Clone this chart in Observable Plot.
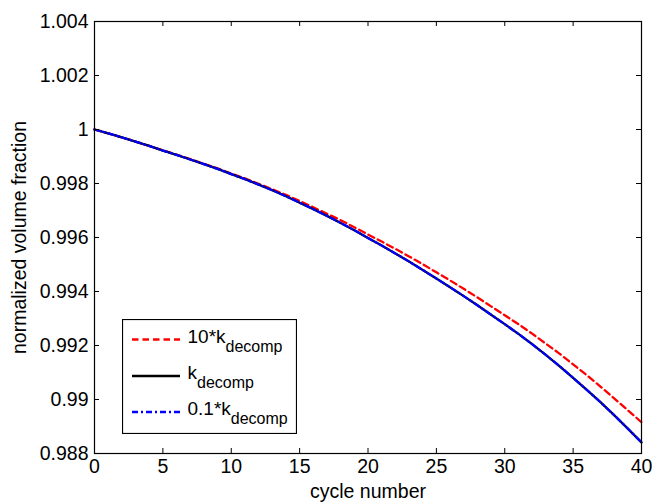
<!DOCTYPE html>
<html>
<head>
<meta charset="utf-8">
<script src="https://cdn.jsdelivr.net/npm/d3@7"></script>
<script src="https://cdn.jsdelivr.net/npm/@observablehq/plot@0.6"></script>
<style>
  html, body { margin: 0; padding: 0; background: #fff; }
  #wrap { position: relative; width: 654px; height: 504px; font-family: "Liberation Sans", Arial, sans-serif; }
  #legend { position: absolute; left: 122px; top: 319px; }
</style>
</head>
<body>
<div id="wrap"></div>
<script>
// ---- data ----
const cycles = [0,1,2,3,4,5,6,7,8,9,10,11,12,13,14,15,16,17,18,19,20,21,22,23,24,25,26,27,28,29,30,31,32,33,34,35,36,37,38,39,40];
const k10x = [1.00000,0.99986,0.99971,0.99955,0.99939,0.99923,0.99907,0.99890,0.99873,0.99856,
  0.99837,0.99819,0.99799,0.99779,0.99758,0.99735,0.99712,0.99688,0.99664,0.99638,
  0.99611,0.99585,0.99558,0.99530,0.99501,0.99471,0.99441,0.99410,0.99378,0.99345,
  0.99312,0.99279,0.99244,0.99207,0.99170,0.99130,0.99090,0.99048,0.99004,0.98960,0.98916];
const k1x = [1.00000,0.99986,0.99971,0.99955,0.99939,0.99922,0.99906,0.99889,0.99872,0.99854,
  0.99835,0.99816,0.99796,0.99775,0.99753,0.99729,0.99705,0.99680,0.99654,0.99627,
  0.99598,0.99570,0.99541,0.99511,0.99480,0.99448,0.99416,0.99383,0.99349,0.99314,
  0.99279,0.99243,0.99205,0.99165,0.99124,0.99080,0.99036,0.98990,0.98942,0.98892,0.98841];
const k01x = [1.00000,0.99986,0.99971,0.99955,0.99939,0.99922,0.99906,0.99889,0.99872,0.99854,
  0.99835,0.99816,0.99796,0.99775,0.99753,0.99729,0.99705,0.99680,0.99654,0.99627,
  0.99598,0.99570,0.99541,0.99511,0.99480,0.99448,0.99416,0.99383,0.99349,0.99314,
  0.99279,0.99243,0.99205,0.99165,0.99124,0.99080,0.99036,0.98990,0.98942,0.98892,0.98841];
const xTicks = [0,5,10,15,20,25,30,35,40];
const yTicks = [0.988,0.990,0.992,0.994,0.996,0.998,1.000,1.002,1.004];
const yTickLabels = ["0.988","0.99","0.992","0.994","0.996","0.998","1","1.002","1.004"];
const seriesNames = ["10*k", "k", "0.1*k"];
const seriesSub = "decomp";
const xLabel = "cycle number";
const yLabel = "normalized volume fraction";

const rows = (ys) => cycles.map((c, i) => ({c, v: ys[i]}));

const W = 654, H = 504;
const mL = 94, mR = 13, mT = 21, mB = 51;
const innerW = W - mL - mR, innerH = H - mT - mB;
const tick = 5;
const font = "Liberation Sans, Arial, sans-serif";
const redDash = "6.5,4";
const blueDash = "6,3,2,3";

const chart = Plot.plot({
  width: W, height: H,
  marginLeft: mL, marginRight: mR, marginTop: mT, marginBottom: mB,
  style: {fontFamily: font, fontSize: "19.5px", color: "#000", background: "#fff"},
  x: {domain: [0, 40]},
  y: {domain: [0.988, 1.004]},
  marks: [
    Plot.line(rows(k10x), {x: "c", y: "v", stroke: "#ff0000", strokeWidth: 2.3, strokeDasharray: redDash}),
    Plot.line(rows(k1x), {x: "c", y: "v", stroke: "#000000", strokeWidth: 2.3}),
    Plot.line(rows(k01x), {x: "c", y: "v", stroke: "#0000ff", strokeWidth: 2.3, strokeDasharray: blueDash}),
    // inward ticks
    Plot.tickX(xTicks, {x: d => d, stroke: "#000", insetTop: innerH - tick}),
    Plot.tickX(xTicks, {x: d => d, stroke: "#000", insetBottom: innerH - tick}),
    Plot.tickY(yTicks, {y: d => d, stroke: "#000", insetRight: innerW - tick}),
    Plot.tickY(yTicks, {y: d => d, stroke: "#000", insetLeft: innerW - tick}),
    Plot.axisX(xTicks, {anchor: "bottom", tickSize: 0, tickPadding: 6, label: null, fontSize: 19.5}),
    Plot.axisY(yTicks, {anchor: "left", tickSize: 0, tickPadding: 6, label: null, fontSize: 19.5,
      tickFormat: d => yTickLabels[yTicks.indexOf(d)]}),
    Plot.frame({stroke: "#000", strokeWidth: 1.2}),
    Plot.text([xLabel], {frameAnchor: "bottom", dy: 38, fontSize: 19.5, lineAnchor: "middle", textAnchor: "middle", fill: "#000"}),
    Plot.text([yLabel], {frameAnchor: "middle", dx: 19 - (mL + innerW / 2), rotate: -90, fontSize: 19.5, lineAnchor: "middle", textAnchor: "middle", fill: "#000"})
  ]
});

const wrap = document.getElementById("wrap");
wrap.appendChild(chart);

// legend
const legendStyles = [
  {stroke: "#ff0000", dash: redDash},
  {stroke: "#000000", dash: null},
  {stroke: "#0000ff", dash: blueDash}
];
const lw = 175, lh = 115;
const rowY = [20.5, 57, 93];
const ns = "http://www.w3.org/2000/svg";
const lg = document.createElementNS(ns, "svg");
lg.setAttribute("id", "legend");
lg.setAttribute("width", lw);
lg.setAttribute("height", lh);
lg.style.fontFamily = font;
const bg = document.createElementNS(ns, "rect");
bg.setAttribute("x", 0.5); bg.setAttribute("y", 0.5);
bg.setAttribute("width", lw - 1); bg.setAttribute("height", lh - 1);
bg.setAttribute("fill", "#fff"); bg.setAttribute("stroke", "#000"); bg.setAttribute("stroke-width", 1.2);
lg.appendChild(bg);
seriesNames.forEach((name, i) => {
  const ln = document.createElementNS(ns, "line");
  ln.setAttribute("x1", 10); ln.setAttribute("x2", 58);
  ln.setAttribute("y1", rowY[i]); ln.setAttribute("y2", rowY[i]);
  ln.setAttribute("stroke", legendStyles[i].stroke);
  ln.setAttribute("stroke-width", 2.3);
  if (legendStyles[i].dash) ln.setAttribute("stroke-dasharray", legendStyles[i].dash);
  lg.appendChild(ln);
  const t = document.createElementNS(ns, "text");
  t.setAttribute("x", 65.5);
  t.setAttribute("y", rowY[i] + 3.2);
  t.setAttribute("font-size", "19px");
  t.setAttribute("fill", "#000");
  t.textContent = name;
  const sub = document.createElementNS(ns, "tspan");
  sub.setAttribute("dy", 9);
  sub.setAttribute("font-size", "16px");
  sub.textContent = seriesSub;
  t.appendChild(sub);
  lg.appendChild(t);
});
wrap.appendChild(lg);
</script>
</body>
</html>
